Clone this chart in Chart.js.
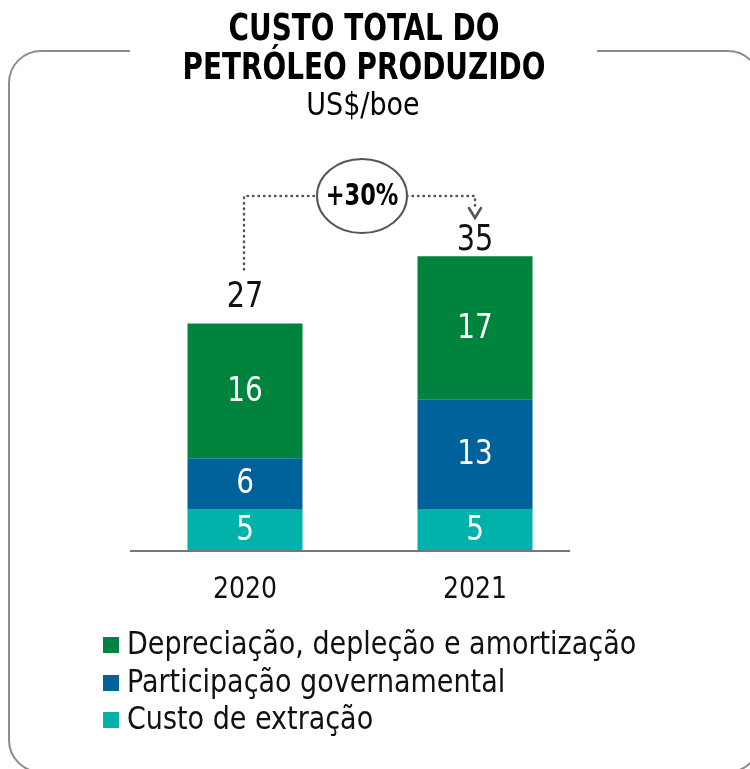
<!DOCTYPE html>
<html>
<head>
<meta charset="utf-8">
<script src="https://cdn.jsdelivr.net/npm/chart.js@4/dist/chart.umd.min.js"></script>
<style>
  html, body { margin: 0; padding: 0; background: #fff; }
  #wrap { width: 750px; height: 769px; position: relative; }
</style>
</head>
<body>
<div id="wrap"><canvas id="myChart" width="750" height="769"></canvas></div>
<script>
var categories = ['2020', '2021'];
var extracao = [5, 5];
var participacao = [6, 13];
var depreciacao = [16, 17];
var totals = [27, 35];
var seriesNames = ['Custo de extração', 'Participação governamental', 'Depreciação, depleção e amortização'];
var seriesColors = ['#00B2A9', '#00629B', '#00843D'];

var FONT = "'DejaVu Sans Condensed', 'DejaVu Sans', sans-serif";

// text a bit taller than the font's own proportions
function tallText(ctx, s, x, y, sy) {
  ctx.save();
  ctx.translate(x, y);
  ctx.scale(1, sy);
  ctx.fillText(s, 0, 0);
  ctx.restore();
}

// everything around the bars: frame, titles, values, legend, the +30% arrow
var decorPlugin = {
  id: 'decor',
  afterDatasetsDraw: function (chart) {
    var ctx = chart.ctx;
    var area = chart.chartArea;
    var xs = chart.scales.x;
    ctx.save();

    // frame with a gap for the title
    var L = 9, T = 51, R = 760, B = 772, r = 32;
    ctx.strokeStyle = '#8c8c8c';
    ctx.lineWidth = 2;
    ctx.beginPath();
    ctx.moveTo(130, T);
    ctx.arcTo(L, T, L, B, r);
    ctx.arcTo(L, B, R, B, r);
    ctx.arcTo(R, B, R, T, r);
    ctx.arcTo(R, T, L, T, r);
    ctx.lineTo(597, T);
    ctx.stroke();

    // title
    ctx.fillStyle = '#000';
    ctx.textAlign = 'center';
    ctx.textBaseline = 'middle';
    ctx.font = 'bold 31px ' + FONT;
    tallText(ctx, 'CUSTO TOTAL DO', 364, 30, 1.2);
    tallText(ctx, 'PETRÓLEO PRODUZIDO', 364, 69, 1.2);
    ctx.font = '30px ' + FONT;
    tallText(ctx, 'US$/boe', 363, 107, 1.05);

    // axis line
    ctx.strokeStyle = '#777';
    ctx.lineWidth = 2;
    ctx.beginPath();
    ctx.moveTo(area.left, area.bottom);
    ctx.lineTo(area.right - 20, area.bottom);
    ctx.stroke();

    // category labels
    ctx.fillStyle = '#111';
    ctx.font = '28px ' + FONT;
    categories.forEach(function (c, i) {
      tallText(ctx, c, xs.getPixelForValue(i), 590, 1.1);
    });

    // segment values
    ctx.fillStyle = '#fff';
    ctx.font = '31px ' + FONT;
    chart.data.datasets.forEach(function (ds, d) {
      chart.getDatasetMeta(d).data.forEach(function (bar, i) {
        tallText(ctx, String(ds.data[i]), bar.x, (bar.y + bar.base) / 2 + 1, 1.1);
      });
    });

    // totals on top
    var top = chart.getDatasetMeta(chart.data.datasets.length - 1).data;
    var gap = [26, 15];
    ctx.fillStyle = '#111';
    ctx.font = '32px ' + FONT;
    totals.forEach(function (t, i) {
      tallText(ctx, String(t), top[i].x, top[i].y - gap[i], 1.1);
    });

    // growth bubble with dotted connector
    var x0 = top[0].x, x1 = top[1].x;
    var cx = (x0 + x1) / 2 + 2, cy = 196, rx = 45, ry = 37;
    ctx.strokeStyle = '#555';
    ctx.lineWidth = 2.5;
    ctx.lineCap = 'round';
    ctx.setLineDash([0.5, 5]);
    ctx.beginPath();
    ctx.moveTo(x0 - 1, top[0].y - gap[0] - 28);
    ctx.lineTo(x0 - 1, cy);
    ctx.lineTo(cx - rx, cy);
    ctx.moveTo(cx + rx, cy);
    ctx.lineTo(x1, cy);
    ctx.lineTo(x1, 210);
    ctx.stroke();
    ctx.setLineDash([]);

    ctx.lineWidth = 2.5;
    ctx.beginPath();
    ctx.moveTo(x1 - 6, 208);
    ctx.lineTo(x1, 218);
    ctx.lineTo(x1 + 6, 208);
    ctx.stroke();

    ctx.lineWidth = 2;
    ctx.strokeStyle = '#555';
    ctx.beginPath();
    ctx.ellipse(cx, cy, rx, ry, 0, 0, Math.PI * 2);
    ctx.stroke();

    var pct = Math.round((totals[1] - totals[0]) / totals[0] * 100);
    ctx.fillStyle = '#000';
    ctx.font = 'bold 25px ' + FONT;
    tallText(ctx, '+' + pct + '%', cx, cy + 1, 1.2);

    // legend, top series first
    ctx.textAlign = 'left';
    ctx.font = '30px ' + FONT;
    var rows = [645, 683, 720];
    for (var k = 0; k < 3; k++) {
      var s = 2 - k;
      ctx.fillStyle = seriesColors[s];
      ctx.fillRect(103, rows[k] - 8, 16, 16);
      ctx.fillStyle = '#111';
      tallText(ctx, seriesNames[s], 127, rows[k] + 1, 1.08);
    }
    ctx.restore();
  }
};

var myChart = new Chart(document.getElementById('myChart'), {
  type: 'bar',
  data: {
    labels: categories,
    datasets: [
      { label: seriesNames[0], data: extracao, backgroundColor: seriesColors[0] },
      { label: seriesNames[1], data: participacao, backgroundColor: seriesColors[1] },
      { label: seriesNames[2], data: depreciacao, backgroundColor: seriesColors[2] }
    ]
  },
  options: {
    responsive: false,
    animation: false,
    layout: { padding: { left: 130, right: 160, top: 214, bottom: 218 } },
    datasets: { bar: { barPercentage: 0.5, categoryPercentage: 1 } },
    scales: {
      x: { stacked: true, display: false },
      y: { stacked: true, display: false, min: 0, max: 40 }
    },
    plugins: { legend: { display: false }, tooltip: { enabled: false } }
  },
  plugins: [decorPlugin]
});
</script>
</body>
</html>
